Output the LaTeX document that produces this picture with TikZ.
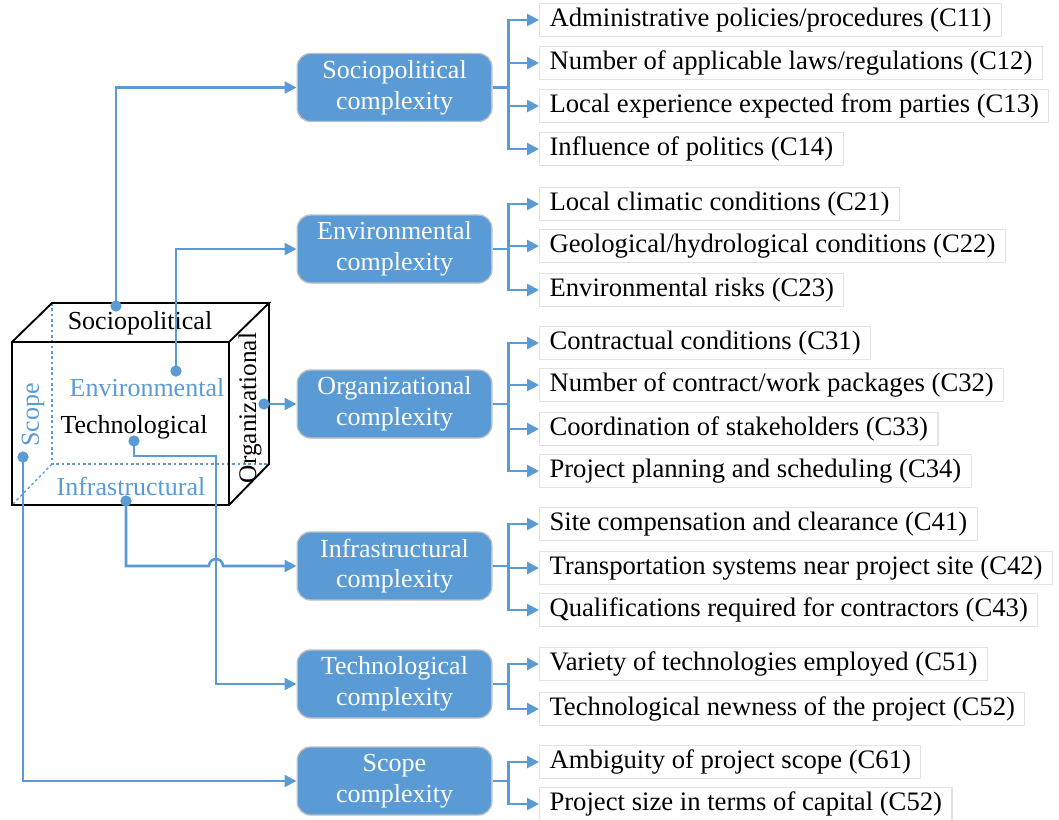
\documentclass[tikz,border=0pt]{standalone}
\usepackage{fontspec}
\setmainfont{Liberation Serif}
\usetikzlibrary{arrows.meta}
\definecolor{cblue}{HTML}{5B9BD5}
\definecolor{bgray}{HTML}{BFBFBF}
\definecolor{igray}{HTML}{E3E3E3}
\begin{document}
\begin{tikzpicture}[x=0.75pt,y=-0.75pt,
  mainbox/.style={draw=bgray,line width=1pt,fill=cblue,rounded corners=10pt,minimum width=146pt,minimum height=51pt,align=center,text=white,font=\fontsize{19.5}{23}\selectfont,inner sep=0pt},
  item/.style={draw=igray,line width=0.8pt,anchor=west,minimum height=24.5pt,inner xsep=7.5pt,inner ysep=0pt,font=\fontsize{20}{23}\selectfont},
  arr/.style={draw=cblue,line width=1.9pt,-{Triangle[width=9pt,length=9pt]}},
  dot/.style={circle,fill=cblue,inner sep=0pt,minimum size=8.5pt},
  cubelbl/.style={font=\fontsize{19.5}{23}\selectfont,inner sep=0pt},
  hid/.style={draw=cblue,line width=1pt,dash pattern=on 2pt off 2pt}]
\useasboundingbox (0,0) rectangle (1059,819);
% cube
\draw[hid] (52,303) -- (52,464) -- (269,464);
\draw[hid] (52,464) -- (12,505);
\draw[line width=1.4pt] (12,342) rectangle (229,505);
\draw[line width=1.4pt] (12,342) -- (52,303) -- (269,303) -- (229,342);
\draw[line width=1.4pt] (269,303) -- (269,464) -- (229,505);
\node[cubelbl] (lS) at (140,323) {Sociopolitical};
\node[cubelbl,text=cblue] (lE) at (147,388) {Environmental};
\node[cubelbl] (lT) at (134,427) {Technological};
\node[cubelbl,text=cblue] (lI) at (131,486) {Infrastructural};
\node[cubelbl,text=cblue,rotate=90] (lSc) at (33,415) {Scope};
\node[cubelbl,rotate=90,font=\fontsize{19}{23}\selectfont] (lO) at (250,408) {Organizational};
% main boxes
\node[mainbox] (S) at (394.5,87.5) {Sociopolitical\\complexity};
\node[mainbox] (E) at (394.5,249) {Environmental\\complexity};
\node[mainbox] (O) at (394.5,404) {Organizational\\complexity};
\node[mainbox] (I) at (394.5,566) {Infrastructural\\complexity};
\node[mainbox] (T) at (394.5,684) {Technological\\complexity};
\node[mainbox] (Sc) at (394.5,781) {Scope\\complexity};
% dots
\coordinate (dS) at (116,306);
\coordinate (dE) at (176,371);
\coordinate (dO) at (264,404);
\coordinate (dT) at (134,441);
\coordinate (dSc) at (23,457);
\coordinate (dI) at (126,501);
% connectors from cube
\draw[arr] (dS) |- (S.west);
\draw[arr] (dE) |- (E.west);
\draw[arr] (dO) -- (O.west);
\draw[arr] (dT) -- (134,456) -- (216,456) |- (T.west);
\draw[arr] (dI) -- (126,566) -- (209,566) arc[start angle=180,end angle=360,radius=7] -- (I.west);
\draw[arr] (dSc) |- (Sc.west);
\foreach \d in {dS,dE,dO,dT,dSc,dI} \node[dot] at (\d) {};
% items
\node[item] (c11) at (539,20) {Administrative policies/procedures (C11)};
\node[item] (c12) at (539,63) {Number of applicable laws/regulations (C12)};
\node[item] (c13) at (539,106) {Local experience expected from parties (C13)};
\node[item] (c14) at (539,149) {Influence of politics (C14)};
\node[item] (c21) at (539,204) {Local climatic conditions (C21)};
\node[item] (c22) at (539,246) {Geological/hydrological conditions (C22)};
\node[item] (c23) at (539,290) {Environmental risks (C23)};
\node[item] (c31) at (539,343) {Contractual conditions (C31)};
\node[item] (c32) at (539,385) {Number of contract/work packages (C32)};
\node[item] (c33) at (539,429) {Coordination of stakeholders (C33)};
\node[item] (c34) at (539,471) {Project planning and scheduling (C34)};
\node[item] (c41) at (539,524) {Site compensation and clearance (C41)};
\node[item] (c42) at (539,568) {Transportation systems near project site (C42)};
\node[item] (c43) at (539,610) {Qualifications required for contractors (C43)};
\node[item] (c51) at (539,664) {Variety of technologies employed (C51)};
\node[item] (c52) at (539,709) {Technological newness of the project (C52)};
\node[item] (c61) at (539,762) {Ambiguity of project scope (C61)};
\node[item] (c62) at (539,804) {Project size in terms of capital (C52)};
% branches
\foreach \m/\list in {S/{c11,c12,c13,c14},E/{c21,c22,c23},O/{c31,c32,c33,c34},I/{c41,c42,c43},T/{c51,c52},Sc/{c61,c62}}{
  \foreach \c in \list {
    \draw[arr] (\m.east) -- ++(16,0) |- (\c.west);
  }
}
\end{tikzpicture}
\end{document}
